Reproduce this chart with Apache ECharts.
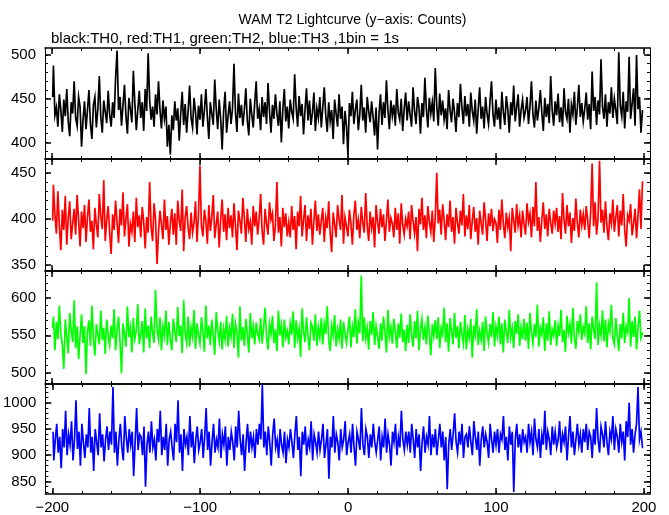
<!DOCTYPE html>
<html><head><meta charset="utf-8">
<script src="https://cdn.jsdelivr.net/npm/echarts@6/dist/echarts.min.js"></script>
<style>html,body{margin:0;padding:0;background:#fff}#c{width:669px;height:515px}</style>
</head><body><div id="c"></div>
<script>
// Counts per 1 s bin, bins centred from -199.5 s to 199.5 s
const th0 = [
452,488,431,440,418,455,437,412,449,430,461,424,407,446,433,470,428,419,452,441,
395,426,447,415,437,460,421,404,443,452,417,438,476,429,411,448,435,422,459,432,
418,446,428,474,505,437,452,419,443,466,430,410,451,438,423,482,445,414,437,459,
428,446,413,461,436,502,449,426,441,418,455,432,470,437,416,448,427,441,395,420,
386,431,414,447,425,439,402,433,458,420,444,411,436,465,428,417,451,435,409,442,
426,455,418,437,461,429,404,446,433,420,472,438,415,449,427,392,436,458,411,430,
447,421,439,490,434,412,456,428,443,419,437,462,425,408,450,432,417,445,470,427,
438,414,452,429,446,421,468,436,411,443,427,455,433,419,447,400,438,461,424,441,
416,449,435,427,478,440,418,453,430,444,409,437,462,425,448,420,434,457,413,439,
428,452,417,440,463,431,412,446,424,437,404,449,433,418,455,427,441,398,436,419,
386,445,430,458,421,437,449,414,432,466,425,440,411,452,436,423,447,429,408,440,
392,433,455,420,446,428,471,437,415,448,430,443,419,461,434,426,450,413,438,457,
425,447,432,418,463,436,421,452,440,410,445,429,474,438,417,451,433,446,424,485,
442,419,456,431,448,426,439,415,460,437,423,450,434,412,445,429,467,440,421,453,
430,444,418,457,436,425,449,410,438,463,427,441,416,452,433,421,447,470,432,418,
449,426,440,415,458,435,420,453,438,411,446,431,465,424,440,455,418,437,449,428,
436,452,421,441,470,432,417,448,425,439,460,434,413,451,429,444,422,476,437,419,
447,431,456,423,440,418,462,435,427,450,411,443,432,458,420,439,466,429,445,424,
438,457,426,444,415,481,436,452,420,448,432,495,441,427,455,418,446,433,463,428,
450,437,421,503,442,430,458,416,447,435,498,427,444,462,419,500,438,452,411,436];
const th1 = [
398,437,405,384,430,392,366,410,388,425,372,401,419,378,395,411,383,426,399,370,
408,390,415,375,402,421,386,398,367,412,394,380,427,403,389,442,376,399,414,385,
362,405,388,420,396,374,411,393,429,381,400,416,370,395,386,408,375,423,391,404,
380,413,397,368,402,385,440,392,376,417,399,351,386,409,394,378,421,388,403,372,
395,411,383,406,372,420,398,387,432,365,401,414,390,378,407,385,396,419,375,404,
458,392,381,410,398,373,415,387,402,426,379,394,408,369,399,421,386,405,377,412,
390,404,380,417,393,366,409,398,384,423,401,375,411,389,397,372,414,392,408,383,
400,427,387,372,411,395,383,418,399,406,376,393,440,385,402,370,412,391,406,381,
396,380,414,388,403,367,408,392,425,381,399,415,376,404,389,411,372,398,420,387,
405,383,398,412,375,401,390,419,385,364,407,394,380,415,399,388,426,373,402,392,
381,410,395,372,404,420,388,399,379,413,396,385,428,393,376,408,390,402,369,415,
397,384,411,391,405,376,398,421,386,401,395,380,412,388,406,373,417,394,383,400,
392,408,378,415,398,384,402,365,411,394,423,388,404,379,414,397,386,409,375,401,
450,395,410,383,416,399,377,405,391,420,386,402,373,412,396,384,409,393,427,381,
404,389,415,378,398,413,386,401,372,409,395,383,418,399,376,406,392,411,387,400,
396,374,410,388,421,395,379,407,391,401,365,412,398,385,416,393,404,380,409,394,
383,417,397,406,380,413,392,440,387,402,375,399,418,389,405,381,411,396,384,409,
395,412,386,403,378,428,399,384,415,392,407,374,401,387,422,396,380,410,393,405,
388,414,398,379,407,460,392,418,383,401,463,396,410,385,419,392,377,406,395,421,
386,402,415,381,409,393,427,388,370,404,398,416,382,395,411,379,403,432,389,440];
const th2 = [
560,575,530,568,545,590,552,538,505,571,549,526,580,556,541,597,533,562,518,550,
578,540,562,498,555,570,536,590,547,523,565,551,538,583,544,560,525,571,549,537,
563,546,585,530,557,575,541,499,566,552,535,589,548,561,527,573,545,556,592,538,
551,569,527,586,546,563,533,575,554,540,611,558,544,574,530,562,549,583,537,568,
545,530,572,556,541,588,549,563,526,597,553,540,575,535,561,548,584,532,566,551,
539,574,555,528,590,546,563,537,571,550,524,581,557,542,568,531,559,545,576,535,
560,548,579,533,566,554,520,589,543,561,536,572,553,527,580,546,562,538,567,552,
544,573,539,560,587,548,531,565,552,576,540,558,529,583,550,564,534,571,547,556,
538,566,551,582,533,570,546,559,521,586,555,541,574,549,530,567,562,543,578,536,
561,547,573,538,566,552,589,544,529,563,550,577,535,558,545,571,532,568,553,540,
557,575,534,562,548,585,539,567,553,630,542,574,546,560,531,569,551,581,537,563,
549,532,566,543,575,555,527,584,548,561,539,572,556,533,566,547,579,541,558,529,
564,540,578,551,535,569,546,583,530,557,572,544,561,538,576,552,523,565,549,570,
545,574,533,560,551,587,541,566,528,573,555,538,580,547,562,533,568,552,539,577,
531,558,547,572,520,563,550,585,537,556,544,568,529,575,553,540,565,548,581,535,
562,549,575,538,566,527,571,555,540,584,547,560,533,569,552,578,536,561,545,572,
543,567,532,580,554,539,565,548,591,535,560,551,574,529,566,543,582,537,558,550,
570,536,563,549,584,541,557,528,576,553,565,539,587,548,532,569,555,578,544,561,
552,589,540,566,531,575,558,545,621,537,563,550,583,542,571,534,566,555,591,546,
538,573,551,529,565,546,580,540,562,554,600,535,569,548,575,531,560,583,546,553];
const th3 = [
945,890,930,960,905,935,875,950,915,985,900,940,920,965,890,930,1005,912,945,880,
960,925,895,940,915,990,905,935,870,950,925,900,980,915,940,888,930,955,910,945,
920,1030,905,945,880,930,960,915,890,975,935,905,950,920,945,860,925,990,910,940,
935,900,955,840,920,945,905,965,915,930,890,950,925,985,900,935,910,960,880,930,
945,915,890,960,925,1005,905,940,870,950,920,935,900,975,915,945,885,930,955,910,
925,950,895,935,990,910,945,880,925,960,905,930,915,970,895,940,920,955,880,935,
910,945,925,890,955,915,985,930,900,940,870,925,960,905,945,915,935,895,950,920,
960,930,1035,915,945,900,955,925,880,940,970,915,930,895,950,920,905,945,885,930,
915,950,925,895,940,975,910,935,860,945,920,955,900,930,915,965,890,940,925,905,
945,910,930,960,895,920,950,855,935,915,975,905,940,925,890,950,915,930,965,900,
925,940,905,960,915,880,945,930,910,990,920,900,950,935,895,940,915,960,925,905,
930,955,890,935,915,970,905,940,920,880,945,925,960,900,935,915,985,930,910,945,
920,945,905,960,930,895,950,915,940,870,925,955,905,935,920,975,900,940,915,950,
900,930,960,915,945,890,935,835,920,950,910,940,980,925,905,945,920,960,895,935,
940,915,955,925,900,965,935,910,945,880,930,955,915,940,925,895,960,930,905,945,
920,950,905,940,930,975,910,935,890,955,920,945,830,930,960,915,940,905,950,925,
935,905,960,925,945,900,970,930,915,950,895,940,920,985,910,945,930,900,955,920,
945,915,930,965,905,940,925,955,890,935,975,915,945,900,930,960,920,940,905,950,
925,960,910,945,935,895,950,920,990,930,905,955,940,915,965,925,900,945,930,975,
910,950,935,905,960,925,945,890,965,935,1000,920,950,905,940,960,1030,930,945,915];
const binStart = -199.5;
const seriesNames = ['TH0','TH1','TH2','TH3'];
const xTickLabels = [-200,-100,0,100,200];
const yTickLabels = [[400,450,500],[350,400,450],[500,550,600],[850,900,950,1000]];
const yRanges = [[381,508],[343.5,465],[485,636],[826,1036]];
const xRange = [-204.7, 204.1];
const titleText = 'WAM T2 Lightcurve (y\u2212axis: Counts)';
const subText = 'black:TH0, red:TH1, green:TH2, blue:TH3 ,1bin = 1s';

const colors = ['#000000','#ff0000','#00ff00','#0000ff'];
const panelTop = [48,159,271,384];
const panelBot = [159,271,384,496];
const fnt = 'Liberation Sans, Arial, Helvetica, sans-serif';

function minorVals(lo, hi, step){const a=[];for(let v=Math.ceil(lo/step)*step; v<=hi; v+=step)a.push(v);return a;}
const xMinor = minorVals(xRange[0], xRange[1], 20);

const grids=[], xAxes=[], yAxes=[], series=[];
const all = [th0,th1,th2,th3];
for(let i=0;i<4;i++){
  grids.push({left:45, width:605, top:panelTop[i], height:panelBot[i]-panelTop[i]});
  const xBase = {type:'value', gridIndex:i, min:xRange[0], max:xRange[1], splitLine:{show:false}};
  const lineOn = {show:true, onZero:false, lineStyle:{color:'#000', width:1.5}};
  const lineOff = {show:false, onZero:false};
  xAxes.push(Object.assign({}, xBase, {position:'bottom', axisLine:lineOn,
    axisTick:{show:true, inside:true, length:6, customValues:xTickLabels, lineStyle:{color:'#000',width:1.5}},
    axisLabel:{show:i===3, customValues:xTickLabels, margin:6, color:'#000', fontSize:15, fontFamily:fnt,
      formatter:v=>String(v).replace('-','\u2212')}}));
  xAxes.push(Object.assign({}, xBase, {position:'bottom', axisLine:lineOff,
    axisTick:{show:true, inside:true, length:3, customValues:xMinor, lineStyle:{color:'#000'}}, axisLabel:{show:false}}));
  xAxes.push(Object.assign({}, xBase, {position:'top', axisLine:lineOn,
    axisTick:{show:true, inside:true, length:6, customValues:xTickLabels, lineStyle:{color:'#000',width:1.5}}, axisLabel:{show:false}}));
  xAxes.push(Object.assign({}, xBase, {position:'top', axisLine:lineOff,
    axisTick:{show:true, inside:true, length:3, customValues:xMinor, lineStyle:{color:'#000'}}, axisLabel:{show:false}}));
  const yMin = yRanges[i][0], yMax = yRanges[i][1];
  const yMinor = minorVals(yMin, yMax, 10);
  const yBase = {type:'value', gridIndex:i, min:yMin, max:yMax, splitLine:{show:false}};
  const yLine = {show:true, onZero:false, lineStyle:{color:'#000', width:1}};
  yAxes.push(Object.assign({}, yBase, {position:'left', axisLine:yLine,
    axisTick:{show:true, inside:true, length:6, customValues:yTickLabels[i], lineStyle:{color:'#000',width:1.5}},
    axisLabel:{show:true, customValues:yTickLabels[i], margin:9, color:'#000', fontSize:15, fontFamily:fnt,
      formatter:v=>String(v)}}));
  yAxes.push(Object.assign({}, yBase, {position:'left', axisLine:lineOff,
    axisTick:{show:true, inside:true, length:3, customValues:yMinor, lineStyle:{color:'#000'}}, axisLabel:{show:false}}));
  yAxes.push(Object.assign({}, yBase, {position:'right', axisLine:yLine,
    axisTick:{show:true, inside:true, length:6, customValues:yTickLabels[i], lineStyle:{color:'#000',width:1.5}}, axisLabel:{show:false}}));
  yAxes.push(Object.assign({}, yBase, {position:'right', axisLine:lineOff,
    axisTick:{show:true, inside:true, length:3, customValues:yMinor, lineStyle:{color:'#000'}}, axisLabel:{show:false}}));
  series.push({name:seriesNames[i], type:'line', xAxisIndex:4*i, yAxisIndex:4*i, step:'middle',
    showSymbol:false, symbol:'none', clip:true, animation:false,
    lineStyle:{color:colors[i], width:1.7, join:'miter', cap:'butt'}, itemStyle:{color:colors[i]},
    data: all[i].map((v,k)=>[binStart+k, v])});
}

const chart = echarts.init(document.getElementById('c'), null, {renderer:'canvas'});
chart.setOption({
  animation:false,
  backgroundColor:'#fff',
  title:[
    {text:titleText, left:347.5, textAlign:'center', top:8, textStyle:{fontSize:14, fontWeight:'normal', color:'#000', fontFamily:fnt}},
    {text:subText, left:46, top:26, textStyle:{fontSize:15, fontWeight:'normal', color:'#000', fontFamily:fnt}}
  ],
  grid:grids, xAxis:xAxes, yAxis:yAxes, series:series
});
</script>
</body></html>
